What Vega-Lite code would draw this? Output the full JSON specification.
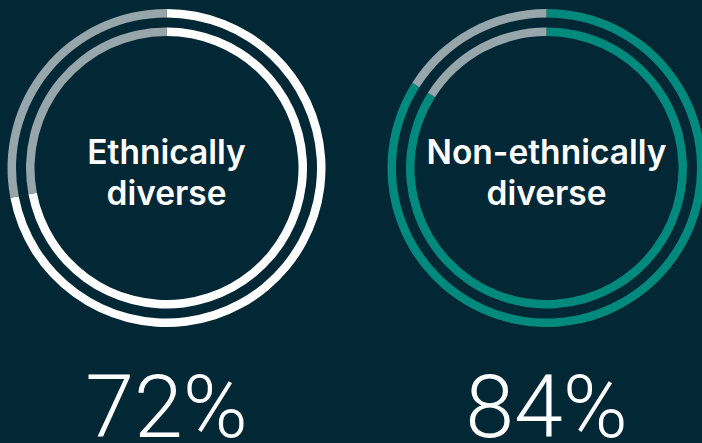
{
  "$schema": "https://vega.github.io/schema/vega-lite/v6.json",
  "width": 702,
  "height": 443,
  "autosize": "none",
  "padding": 0,
  "background": "#022735",
  "config": {"view": {"stroke": null}},
  "datasets": {
    "rings": [
      {"panel": "Ethnically diverse", "ring": "outer", "key": "Ethnically diverse", "value": 72, "seq": 1},
      {"panel": "Ethnically diverse", "ring": "outer", "key": "Remainder", "value": 28, "seq": 2},
      {"panel": "Ethnically diverse", "ring": "inner", "key": "Ethnically diverse", "value": 72, "seq": 1},
      {"panel": "Ethnically diverse", "ring": "inner", "key": "Remainder", "value": 28, "seq": 2},
      {"panel": "Non-ethnically diverse", "ring": "outer", "key": "Non-ethnically diverse", "value": 84, "seq": 1},
      {"panel": "Non-ethnically diverse", "ring": "outer", "key": "Remainder", "value": 16, "seq": 2},
      {"panel": "Non-ethnically diverse", "ring": "inner", "key": "Non-ethnically diverse", "value": 84, "seq": 1},
      {"panel": "Non-ethnically diverse", "ring": "inner", "key": "Remainder", "value": 16, "seq": 2}
    ],
    "labels": [
      {"panel": "Ethnically diverse", "label": "Ethnically\ndiverse", "pct": "72%"},
      {"panel": "Non-ethnically diverse", "label": "Non-ethnically\ndiverse", "pct": "84%"}
    ]
  },
  "encoding": {
    "x": {
      "field": "panel",
      "type": "nominal",
      "scale": {"type": "point", "domain": ["Ethnically diverse", "Non-ethnically diverse"], "padding": 0.4237, "align": 0.5171},
      "axis": null
    }
  },
  "layer": [
    {
      "data": {"name": "rings"},
      "transform": [
        {"filter": "datum.ring === 'outer'"},
        {"stack": "value", "groupby": ["panel", "ring"], "sort": [{"field": "seq", "order": "ascending"}], "as": ["v0", "v1"]}
      ],
      "mark": {"type": "arc", "radius": 159, "radius2": 150.5, "clip": true},
      "encoding": {
        "y": {"datum": "ring", "type": "nominal", "scale": {"type": "point", "domain": ["ring", "pct"], "padding": 0.3234, "align": 0.9655}, "axis": null},
        "theta": {"field": "v0", "type": "quantitative", "scale": {"domain": [0, 100]}},
        "theta2": {"field": "v1"},
        "color": {"field": "key", "type": "nominal", "scale": {"domain": ["Ethnically diverse", "Non-ethnically diverse", "Remainder"], "range": ["#ffffff", "#00897d", "#97a6ab"]}, "legend": null}
      }
    },
    {
      "data": {"name": "rings"},
      "transform": [
        {"filter": "datum.ring === 'inner'"},
        {"stack": "value", "groupby": ["panel", "ring"], "sort": [{"field": "seq", "order": "ascending"}], "as": ["v0", "v1"]}
      ],
      "mark": {"type": "arc", "radius": 140.5, "radius2": 132, "clip": true},
      "encoding": {
        "y": {"datum": "ring", "type": "nominal", "scale": {"type": "point", "domain": ["ring", "pct"], "padding": 0.3234, "align": 0.9655}, "axis": null},
        "theta": {"field": "v0", "type": "quantitative", "scale": {"domain": [0, 100]}},
        "theta2": {"field": "v1"},
        "color": {"field": "key", "type": "nominal", "scale": {"domain": ["Ethnically diverse", "Non-ethnically diverse", "Remainder"], "range": ["#ffffff", "#00897d", "#97a6ab"]}, "legend": null}
      }
    },
    {
      "data": {"name": "labels"},
      "mark": {"type": "text", "lineBreak": "\n", "font": "Inter", "fontWeight": 600, "fontSize": 33.5, "lineHeight": 41, "align": "center", "baseline": "middle", "dy": -14, "color": "#ffffff"},
      "encoding": {
        "y": {"datum": "ring", "type": "nominal", "scale": {"type": "point", "domain": ["ring", "pct"], "padding": 0.3234, "align": 0.9655}, "axis": null},
        "text": {"field": "label"}
      }
    },
    {
      "data": {"name": "labels"},
      "mark": {"type": "text", "font": "Roboto", "fontWeight": 300, "fontSize": 88, "align": "center", "baseline": "alphabetic", "color": "#ffffff"},
      "encoding": {
        "y": {"datum": "pct", "type": "nominal", "scale": {"type": "point", "domain": ["ring", "pct"], "padding": 0.3234, "align": 0.9655}, "axis": null},
        "text": {"field": "pct"}
      }
    }
  ]
}
